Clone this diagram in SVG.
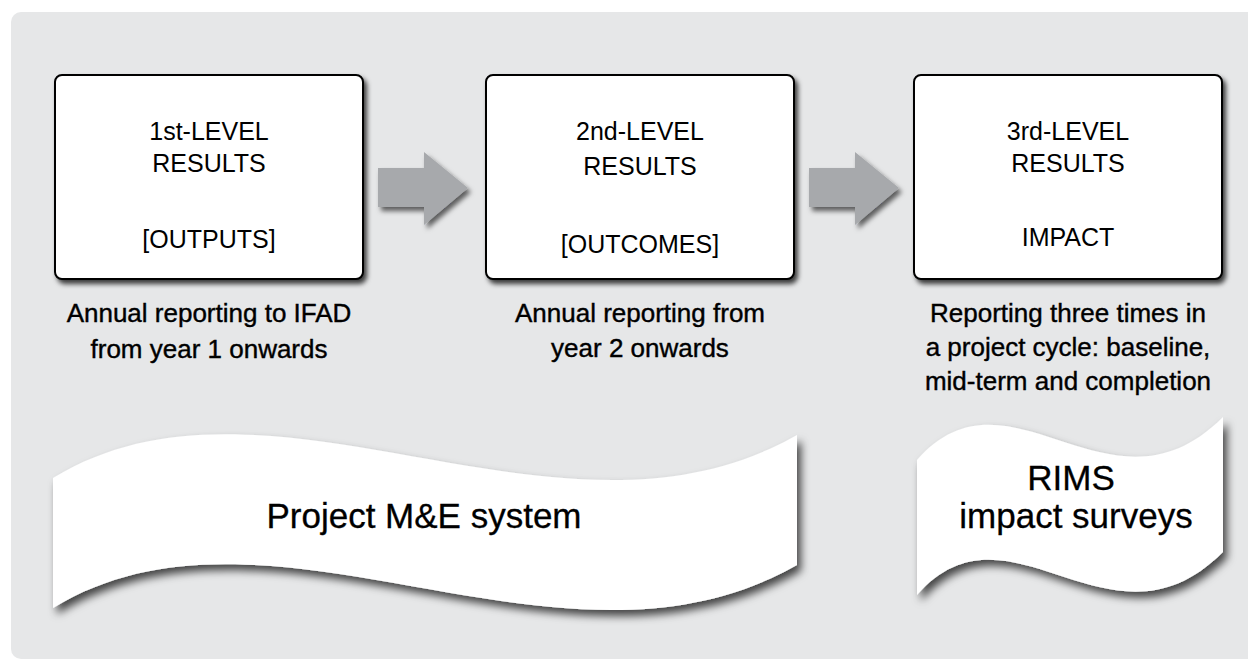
<svg xmlns="http://www.w3.org/2000/svg" width="1248" height="660" viewBox="0 0 1248 660">
<defs>
<filter id="sh" x="-10%" y="-10%" width="125%" height="130%">
<feDropShadow dx="3" dy="4" stdDeviation="2.5" flood-color="#000" flood-opacity="0.75"/>
</filter>
<filter id="shb" x="-10%" y="-20%" width="125%" height="150%">
<feDropShadow dx="4" dy="6" stdDeviation="4" flood-color="#000" flood-opacity="0.7"/>
</filter>
<filter id="sha" x="-20%" y="-20%" width="150%" height="150%">
<feDropShadow dx="3" dy="4" stdDeviation="2.5" flood-color="#000" flood-opacity="0.6"/>
</filter>
</defs>
<style>
.bg{fill:#e6e7e8}
.box{fill:#fff;stroke:#000;stroke-width:2}
.arr{fill:#a7a9ac}
.ban{fill:#fff}
.t{font-family:"Liberation Sans",Arial,Helvetica,sans-serif;font-size:25px;fill:#000;text-anchor:middle}
.c{font-family:"Liberation Sans",Arial,Helvetica,sans-serif;font-size:26px;fill:#000;stroke:#000;stroke-width:0.4;text-anchor:middle}
.b{font-family:"Liberation Sans",Arial,Helvetica,sans-serif;font-size:35px;fill:#000;stroke:#000;stroke-width:0.3;text-anchor:middle}
</style>
<rect class="bg" x="11" y="12" width="1260" height="647" rx="10"/>

<g id="connectors">
<polygon class="arr" filter="url(#sha)" points="378,168 424,168 424,152 468,188 424,225 424,207 378,207"/>
<polygon class="arr" filter="url(#sha)" points="809,168 855,168 855,152 899,188 855,225 855,207 809,207"/>
</g>

<g id="node-level1">
<rect class="box" filter="url(#sh)" x="55" y="75" width="308" height="204" rx="7"/>
<text class="t" x="209" y="140">1st-LEVEL</text>
<text class="t" x="209" y="172">RESULTS</text>
<text class="t" x="209" y="248">[OUTPUTS]</text>
</g>
<g id="node-level2">
<rect class="box" filter="url(#sh)" x="486" y="75" width="308" height="204" rx="7"/>
<text class="t" x="640" y="140">2nd-LEVEL</text>
<text class="t" x="640" y="175">RESULTS</text>
<text class="t" x="640" y="253">[OUTCOMES]</text>
</g>
<g id="node-level3">
<rect class="box" filter="url(#sh)" x="914" y="75" width="308" height="204" rx="7"/>
<text class="t" x="1068" y="140">3rd-LEVEL</text>
<text class="t" x="1068" y="172">RESULTS</text>
<text class="t" x="1068" y="246">IMPACT</text>
</g>

<g id="caption-1">
<text class="c" x="209" y="322">Annual reporting to IFAD</text>
<text class="c" x="209" y="358">from year 1 onwards</text>
</g>
<g id="caption-2">
<text class="c" x="640" y="322">Annual reporting from</text>
<text class="c" x="640" y="357">year 2 onwards</text>
</g>
<g id="caption-3">
<text class="c" x="1068" y="322">Reporting three times in</text>
<text class="c" x="1068" y="356">a project cycle: baseline,</text>
<text class="c" x="1068" y="390">mid-term and completion</text>
</g>

<g id="banner-me">
<path class="ban" filter="url(#shb)" d="M53,478 C270,345 560,570 797,435 L797,565 C560,700 270,475 53,608 Z"/>
<text class="b" x="424" y="528">Project M&amp;E system</text>
</g>
<g id="banner-rims">
<path class="ban" filter="url(#shb)" d="M917,460 C1010,355 1110,530 1223,417 L1223,552 C1110,665 1010,490 917,595 Z"/>
<text class="b" x="1071" y="490">RIMS</text>
<text class="b" x="1076" y="528">impact surveys</text>
</g>
</svg>
